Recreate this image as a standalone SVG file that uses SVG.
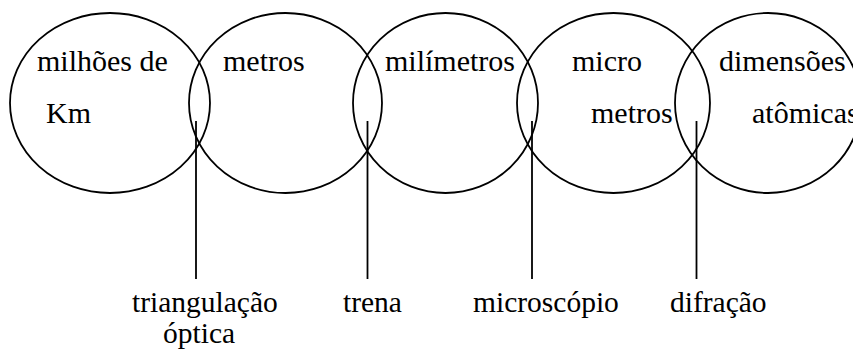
<svg xmlns="http://www.w3.org/2000/svg" width="853" height="351" viewBox="0 0 853 351">
<style>
.c{fill:none;stroke:#000;stroke-width:1.8}
.l{stroke:#000;stroke-width:1.8}
text{font-family:"Liberation Serif","Times New Roman",serif;fill:#000;font-size:30px}
#labels text{font-size:29.5px}
</style>
<rect width="853" height="351" fill="#fff"/>
<g id="n1"><ellipse class="c" cx="110" cy="103" rx="100" ry="90"/>
<text x="37" y="71">milhões de</text>
<text x="46" y="123">Km</text></g>
<g id="n2"><ellipse class="c" cx="285.5" cy="103" rx="96.5" ry="90"/>
<text x="223" y="71">metros</text></g>
<g id="n3"><ellipse class="c" cx="445.5" cy="103" rx="92.5" ry="90"/>
<text x="385" y="71">milímetros</text></g>
<g id="n4"><ellipse class="c" cx="613.5" cy="103" rx="96.5" ry="90"/>
<text x="572" y="71">micro</text>
<text x="591" y="123">metros</text></g>
<g id="n5"><ellipse class="c" cx="768" cy="103" rx="93" ry="90"/>
<text x="719" y="71">dimensões</text>
<text x="752" y="123">atômicas</text></g>
<g id="connectors">
<line class="l" x1="196" y1="121" x2="196" y2="279"/>
<line class="l" x1="367.5" y1="121" x2="367.5" y2="279"/>
<line class="l" x1="532" y1="121" x2="532" y2="279"/>
<line class="l" x1="696.5" y1="121" x2="696.5" y2="279"/>
</g>
<g id="labels">
<text x="132" y="312">triangulação</text>
<text x="163" y="343">óptica</text>
<text x="343" y="312">trena</text>
<text x="473" y="312">microscópio</text>
<text x="670" y="312">difração</text>
</g>
</svg>
